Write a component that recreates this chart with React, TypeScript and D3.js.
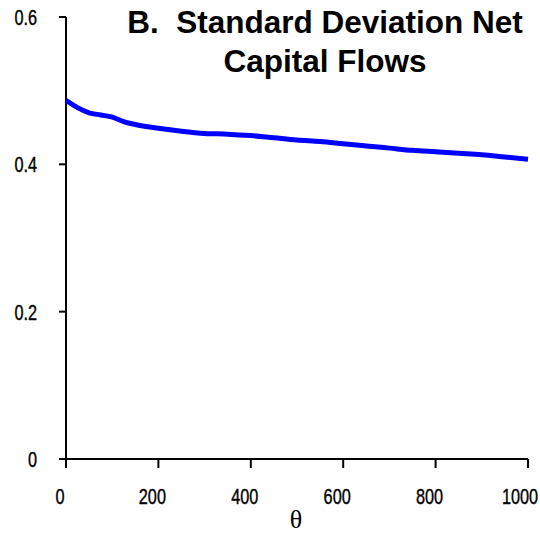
import React from "react";
import * as d3 from "d3";

// θ grid and the simulated standard deviation of net capital flows
const thetaValues = [0, 25, 50, 75, 100, 125, 150, 200, 250, 300, 350, 400, 450, 500, 550, 600, 650, 700, 750, 800, 850, 900, 950, 1000];
const sdValues = [0.487, 0.477, 0.47, 0.467, 0.464, 0.458, 0.454, 0.449, 0.445, 0.442, 0.441, 0.439, 0.436, 0.433, 0.431, 0.428, 0.425, 0.422, 0.419, 0.417, 0.415, 0.413, 0.41, 0.407];

const xTicks = [0, 200, 400, 600, 800, 1000];
const yTicks = [0, 0.2, 0.4, 0.6];
const yTickLabels = ["0", "0.2", "0.4", "0.6"];
const titleLines = ["B.  Standard Deviation Net", "Capital Flows"];
const xLabel = "θ";

const W = 540;
const H = 533;
const left = 66;
const right = 528;
const top = 17;
const bottom = 459;

const tickFont = "'Liberation Sans', Arial, sans-serif";
const condense = 0.74;

export default function App() {
  const x = d3.scaleLinear().domain([0, 1000]).range([left, right]);
  const y = d3.scaleLinear().domain([0, 0.6]).range([bottom, top]);
  const line = d3
    .line<number>()
    .x((_, i) => x(thetaValues[i]))
    .y((d) => y(d))
    .curve(d3.curveMonotoneX);

  return (
    <svg
      width={W}
      height={H}
      viewBox={`0 0 ${W} ${H}`}
      style={{ position: "absolute", left: 0, top: 0, background: "#fff" }}
    >
      <rect x={0} y={0} width={W} height={H} fill="#fff" />
      {/* title */}
      <g fontFamily="Arial, 'Liberation Sans', sans-serif" fontWeight="bold" fontSize={31.5} textAnchor="middle" fill="#000">
        {titleLines.map((t, i) => (
          <text key={i} x={325} y={33 + i * 38.5} style={{ whiteSpace: "pre" }}>
            {t}
          </text>
        ))}
      </g>

      {/* axes */}
      <g stroke="#000" strokeWidth={2} fill="none">
        <line x1={left} x2={left} y1={top} y2={bottom} />
        <line x1={left - 7} x2={right} y1={bottom} y2={bottom} />
        {yTicks.map((t) => (
          <line key={"yt" + t} x1={left - 7} x2={left} y1={y(t)} y2={y(t)} />
        ))}
        {xTicks.map((t) => (
          <line key={"xt" + t} x1={x(t)} x2={x(t)} y1={bottom} y2={bottom + 9} />
        ))}
      </g>

      {/* tick labels, horizontally condensed */}
      <g fontFamily={tickFont} fontSize={22} fill="#000" stroke="#000" strokeWidth={0.4}>
        {yTicks.map((t, i) => (
          <text
            key={"yl" + t}
            transform={`translate(37,${y(t) + 8}) scale(${condense},1)`}
            textAnchor="end"
          >
            {yTickLabels[i]}
          </text>
        ))}
        {xTicks.map((t) => (
          <text
            key={"xl" + t}
            transform={`translate(${Math.min(x(t) - 6, 520)},504) scale(${condense},1)`}
            textAnchor="middle"
          >
            {t}
          </text>
        ))}
      </g>

      {/* x axis title */}
      <text x={296} y={528} textAnchor="middle" fontFamily="'Liberation Serif', 'Times New Roman', serif" fontSize={26} fill="#000">
        {xLabel}
      </text>

      {/* data line */}
      <path d={line(sdValues) ?? ""} fill="none" stroke="#0000ff" strokeWidth={5} strokeLinejoin="round" />
    </svg>
  );
}
